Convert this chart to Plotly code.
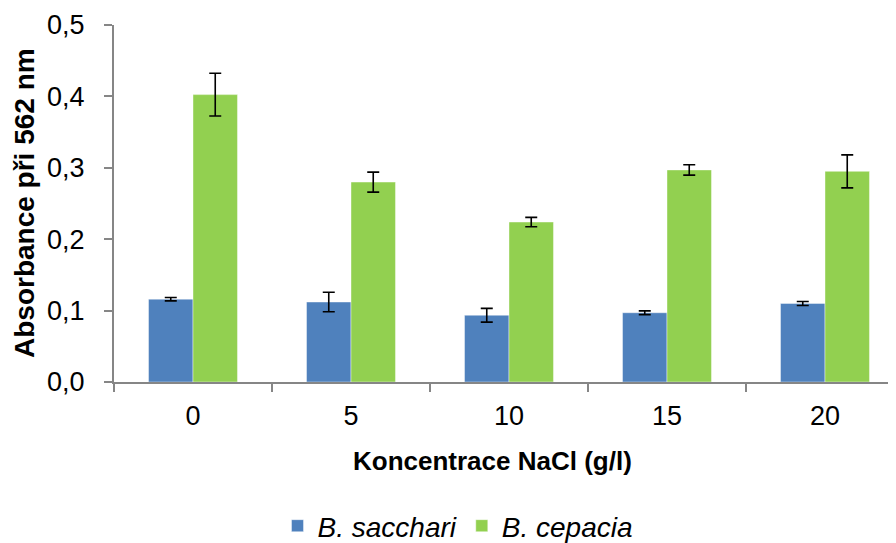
import plotly.graph_objects as go

categories = ["0", "5", "10", "15", "20"]
sacchari = [0.116, 0.112, 0.0935, 0.097, 0.110]
sacchari_err = [0.0024, 0.0136, 0.0096, 0.0026, 0.0028]
cepacia = [0.4025, 0.280, 0.224, 0.297, 0.295]
cepacia_err = [0.030, 0.014, 0.0065, 0.0072, 0.0231]
y_ticks = [0, 0.1, 0.2, 0.3, 0.4, 0.5]

FONT = "Liberation Sans, Arial, sans-serif"
OFF = 8  # page body margin offset
W, H = 896 - OFF, 543 - OFF
ML, MR, MT = 114 - OFF, 0, 25 - OFF
MB = H - (382 - OFF)
band = 158.0
plot_w = W - ML - MR
plot_h = H - MT - MB


def px_x(sx):
    return (sx - OFF - ML) / plot_w


def px_y(sy):
    return (H - MB - (sy - OFF)) / plot_h


fig = go.Figure()
fig.add_trace(go.Bar(
    x=categories, y=sacchari, name="<i>B. sacchari</i>",
    marker=dict(color="#4F81BD", line=dict(color="rgba(255,255,255,0.7)", width=0.6)),
    error_y=dict(type="data", array=sacchari_err, color="black", thickness=1.6, width=6),
))
fig.add_trace(go.Bar(
    x=categories, y=cepacia, name="<i>B. cepacia</i>",
    marker=dict(color="#92D050", line=dict(color="rgba(255,255,255,0.7)", width=0.6)),
    error_y=dict(type="data", array=cepacia_err, color="black", thickness=1.6, width=6),
))

fig.update_layout(
    width=W, height=H,
    margin=dict(l=ML, r=MR, t=MT, b=MB, pad=0),
    paper_bgcolor="white", plot_bgcolor="white",
    barmode="group", bargap=0.437, bargroupgap=0,
    separators=",.",
    font=dict(family=FONT, color="black", size=27),
    showlegend=True,
    legend=dict(orientation="h", xref="container", yref="container",
                x=(458 - OFF) / W, y=1 - (526 - OFF) / H, xanchor="center", yanchor="middle",
                font=dict(size=28, family=FONT), itemwidth=30, traceorder="normal"),
)
fig.update_xaxes(
    type="category", range=[-0.5, -0.5 + plot_w / band],
    showline=True, linecolor="#868686", linewidth=2,
    ticks="outside", tickson="boundaries", ticklen=8, tickcolor="#868686", tickwidth=2,
    tickfont=dict(size=27, family=FONT), showgrid=False, zeroline=False,
    ticklabelstandoff=9,
)
fig.update_yaxes(
    range=[0, 0.5], tickvals=y_ticks, tickformat=".1f",
    showline=True, linecolor="#868686", linewidth=2,
    ticks="outside", ticklen=8, tickcolor="#868686", tickwidth=2,
    tickfont=dict(size=27, family=FONT), showgrid=False, zeroline=False,
    ticklabelstandoff=14,
)
fig.add_annotation(
    text="<b>Koncentrace NaCl (g/l)</b>", xref="paper", yref="paper",
    x=px_x(492), y=px_y(461),
    showarrow=False, xanchor="center", yanchor="middle",
    font=dict(size=26, family=FONT),
)
fig.add_annotation(
    text="<b>Absorbance při 562 nm</b>", xref="paper", yref="paper",
    x=px_x(24), y=px_y(203),
    showarrow=False, xanchor="center", yanchor="middle", textangle=-90,
    font=dict(size=28, family=FONT),
)

fig.write_html("out.html")
